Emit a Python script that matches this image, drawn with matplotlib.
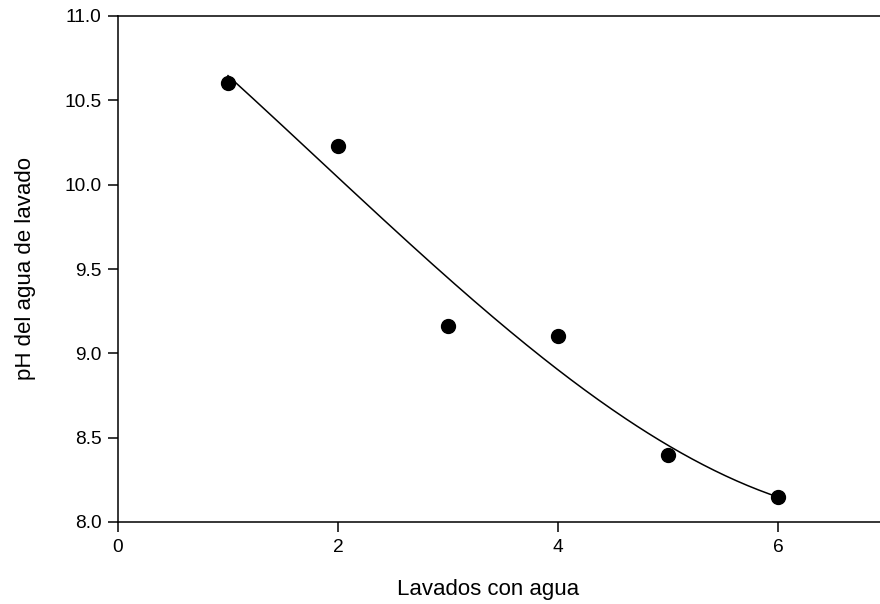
import numpy as np
import matplotlib
matplotlib.use("Agg")
import matplotlib.pyplot as plt

plt.rcParams['font.family'] = ['Liberation Sans', 'DejaVu Sans']

lavados = [1, 2, 3, 4, 5, 6]
ph = [10.6, 10.23, 9.16, 9.1, 8.4, 8.15]
x_ticks = [0, 2, 4, 6]
y_ticks = [8.0, 8.5, 9.0, 9.5, 10.0, 10.5, 11.0]

W, H = 880, 604
fig = plt.figure(figsize=(W / 100, H / 100), dpi=100)
left, right, top, bottom = 118, 888, 16, 522
ax = fig.add_axes([left / W, 1 - bottom / H, (right - left) / W, (bottom - top) / H])

coef = np.polyfit(lavados, ph, 3)
xs = np.linspace(min(lavados), max(lavados), 200)
ax.plot(xs, np.polyval(coef, xs), color='black', lw=1.1)
ax.plot(lavados, ph, 'o', color='black', markersize=10)

ax.set_xlim(0, 7)
ax.set_ylim(8.0, 11.0)
ax.set_xticks(x_ticks)
ax.set_xticklabels([str(t) for t in x_ticks])
ax.set_yticks(y_ticks)
ax.set_yticklabels([f"{t:.1f}" for t in y_ticks])
ax.tick_params(direction='out', length=7, width=1.1, labelsize=13.8, pad=5)
for s in ax.spines.values():
    s.set_linewidth(1.1)

ax.set_xlabel('Lavados con agua', fontsize=16)
ax.xaxis.set_label_coords((488 - left) / (right - left), -(590 - bottom) / (bottom - top) + 0.0)
ax.xaxis.label.set_verticalalignment('center')
ax.set_ylabel('pH del agua de lavado', fontsize=16, labelpad=20)

fig.savefig('out.png', dpi=100)
